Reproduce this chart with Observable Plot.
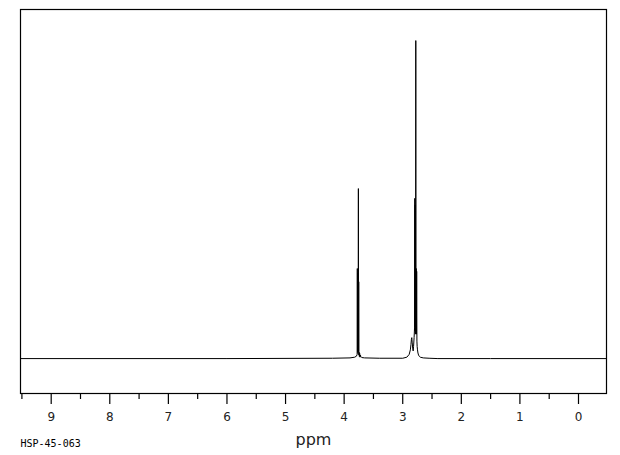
<!DOCTYPE html>
<html>
<head>
<meta charset="utf-8">
<script src="https://cdn.jsdelivr.net/npm/d3@7"></script>
<script src="https://cdn.jsdelivr.net/npm/@observablehq/plot@0.6"></script>
<style>
  html, body { margin: 0; padding: 0; background: #fff; }
</style>
</head>
<body>
<div id="chart"></div>
<script>
// Spectrum points (chemical shift in ppm, relative intensity)
const shiftPpm = [
  9.52, 6.00, 4.20, 3.90, 3.82, 3.79, 3.778, 3.775, 3.772, 3.769, 3.764, 3.760, 3.757, 3.754, 3.751, 3.748, 3.745,
  3.740, 3.735, 3.728, 3.722, 3.715, 3.70, 3.65, 3.40, 3.00, 2.93, 2.89, 2.87, 2.86, 2.852, 2.845, 2.838,
  2.830, 2.822, 2.815, 2.806, 2.798, 2.794, 2.791, 2.788, 2.784, 2.780, 2.777, 2.774, 2.770, 2.766,
  2.762, 2.758, 2.754, 2.748, 2.740, 2.730, 2.715, 2.70, 2.65, 2.55, 2.40, 1.50, -0.48
];
const intensity = [
  0.0, 0.0, 0.1, 0.2, 0.4, 0.7, 1.2, 25.8, 2.0, 24.5, 1.5, 2.0, 48.7, 2.0, 22.0, 1.0, 1.8,
  0.6, 1.5, 0.4, 1.0, 0.6, 0.3, 0.2, 0.1, 0.1, 0.4, 1.2, 2.5, 4.0, 5.5, 6.0, 4.5,
  3.0, 2.2, 3.5, 6.0, 9.0, 45.9, 8.0, 44.0, 7.0, 9.0, 91.1, 9.0, 25.8, 7.0,
  25.0, 5.0, 3.5, 2.5, 1.6, 1.0, 0.6, 0.4, 0.2, 0.1, 0.0, 0.0, 0.0
];
const majorTicks = [9, 8, 7, 6, 5, 4, 3, 2, 1, 0];
const minorTicks = [9.5, 8.5, 7.5, 6.5, 5.5, 4.5, 3.5, 2.5, 1.5, 0.5];
const axisTitle = "ppm";
const sampleId = "HSP-45-063";

const spectrum = shiftPpm.map((p, i) => ({ppm: p, y: intensity[i]}));

const chart = Plot.plot({
  width: 620,
  height: 455,
  marginLeft: 20,
  marginRight: 14,
  marginTop: 9,
  marginBottom: 62,
  style: {background: "#fff", color: "#000"},
  x: {domain: [9.524, -0.478], label: null},
  y: {domain: [-10, 100], axis: null},
  marks: [
    Plot.frame({stroke: "#000", strokeWidth: 1.2}),
    Plot.line(spectrum, {x: "ppm", y: "y", stroke: "#000", strokeWidth: 1}),
    Plot.axisX(minorTicks, {tickSize: 6, tickFormat: () => "", label: null, stroke: "#000", strokeWidth: 1.2}),
    Plot.axisX(majorTicks, {tickSize: 11, tickPadding: 8, label: null, tickFormat: d => String(d), fontSize: 12, fontFamily: "DejaVu Sans", fill: "#222", stroke: "#000", strokeWidth: 1.2}),
    Plot.text([axisTitle], {frameAnchor: "bottom", dy: 51, fontSize: 16, fontFamily: "DejaVu Sans", fill: "#222"}),
    Plot.text([sampleId], {frameAnchor: "bottom-left", dy: 53, textAnchor: "start", fontSize: 10, fontFamily: "DejaVu Sans Mono", fill: "#000"})
  ]
});
document.getElementById("chart").appendChild(chart);
</script>
</body>
</html>
